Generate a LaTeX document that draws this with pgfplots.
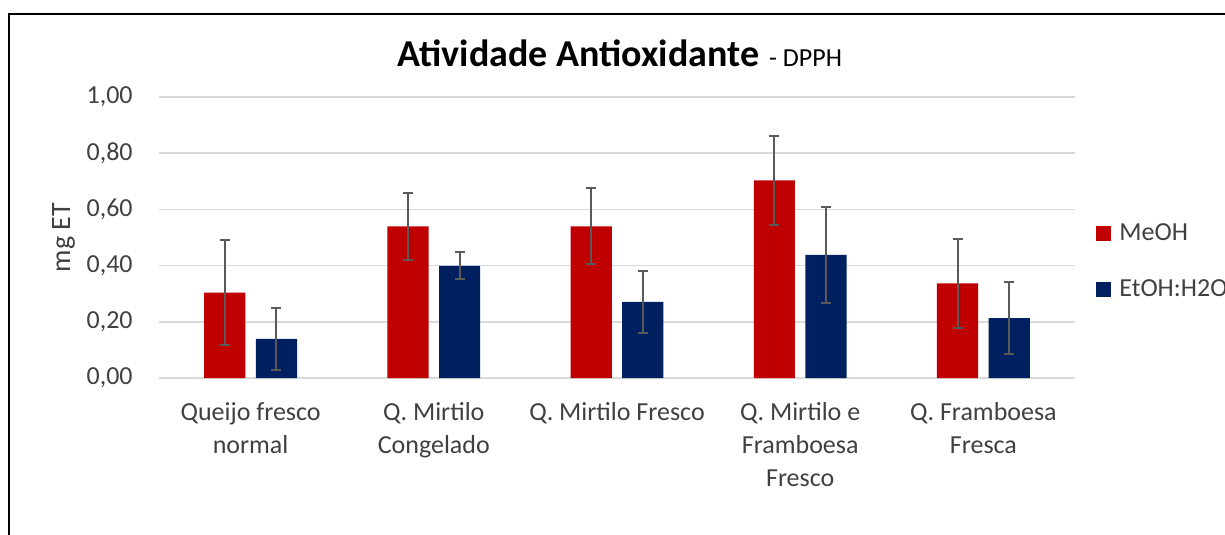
\documentclass[border=0pt]{standalone}
\usepackage{fontspec}
\setmainfont{Carlito}
\usepackage{pgfplots}
\usepackage{pgfplotstable}
\pgfplotsset{compat=1.18}

\definecolor{meoh}{HTML}{C00000}
\definecolor{etoh}{HTML}{002060}
\definecolor{errgray}{HTML}{595959}
\definecolor{gridgray}{HTML}{D9D9D9}
\definecolor{txt}{HTML}{404040}

% mean and error (mg ET) per sample
\pgfplotstableread{
x y e
0 0.304 0.188
1 0.540 0.119
2 0.540 0.135
3 0.703 0.157
4 0.337 0.159
}\meohdata
\pgfplotstableread{
x y e
0 0.139 0.109
1 0.399 0.048
2 0.271 0.110
3 0.438 0.172
4 0.213 0.127
}\etohdata

\pgfplotsset{
  sqlegend/.style={legend image code/.code={%
    \fill[##1, draw=none] (0bp,-3.75bp) rectangle (7.5bp,3.75bp);
    \path (11.5bp,0bp);}},
  errs/.style={error bars/.cd, y dir=both, y explicit,
    error bar style={line width=1bp, errgray},
    error mark options={rotate=90, mark size=2.5bp, line width=1bp, errgray}},
}

\begin{document}
\begin{tikzpicture}
\begin{axis}[
    at={(0,0)}, anchor=south west,
    scale only axis, width=458bp, height=140.5bp,
    xmin=-0.5, xmax=4.5, ymin=0, ymax=1,
    xtick={0,1,2,3,4},
    xticklabels={{Queijo fresco\\normal}, {Q. Mirtilo\\Congelado}, {Q. Mirtilo Fresco},
                 {Q. Mirtilo e\\Framboesa\\Fresco}, {Q. Framboesa\\Fresca}},
    ytick={0,0.2,0.4,0.6,0.8,1},
    axis line style={draw=none},
    major tick length=0pt,
    ymajorgrids, grid style={gridgray, line width=0.75bp},
    tick label style={font=\fontsize{13bp}{16.5bp}\selectfont, text=txt},
    /pgf/number format/assume math mode=true,
    yticklabel style={/pgf/number format/fixed, /pgf/number format/fixed zerofill,
      /pgf/number format/precision=2, /pgf/number format/use comma,
      anchor=east, inner sep=0pt, xshift=-13bp},
    xticklabel style={align=center, anchor=north, inner sep=0pt, yshift=-12bp},
    ylabel={mg ET},
    ylabel style={at={(axis description cs:-0.1043,0.5)}, anchor=center,
      font=\fontsize{14bp}{17bp}\selectfont, text=txt, inner sep=0pt},
    title={{\bfseries\fontsize{19bp}{22bp}\selectfont Atividade Antioxidante}\hspace{5bp}%
           {\fontsize{13bp}{16bp}\selectfont - DPPH}},
    every axis title/.style={at={(axis description cs:0.503,1.108)}, anchor=base, inner sep=0pt},
    legend style={at={(axis description cs:1.0164,0.414)}, anchor=west,
      draw=none, fill=none, font=\fontsize{13bp}{16bp}\selectfont, text=txt,
      row sep=16bp, column sep=0pt,
      nodes={inner sep=0pt, text height=9.5bp, text depth=2.5bp}},
    legend cell align=left,
]
\addplot[ybar, bar width=20.6bp, bar shift=0pt, fill=meoh, draw=none, sqlegend, errs]
  table[x expr=\thisrow{x}-0.141, y=y, y error=e] {\meohdata};
\addplot[ybar, bar width=20.6bp, bar shift=0pt, fill=etoh, draw=none, sqlegend, errs]
  table[x expr=\thisrow{x}+0.141, y=y, y error=e] {\etohdata};
\legend{MeOH, EtOH:H2O}
\end{axis}
\draw[line width=1bp, black] (-75bp,-90bp) -- (-75bp,182bp) -- (560bp,182bp);
\pgfresetboundingbox
\useasboundingbox (-79.5bp,-78.5bp) rectangle (533bp,189bp);
\end{tikzpicture}
\end{document}
